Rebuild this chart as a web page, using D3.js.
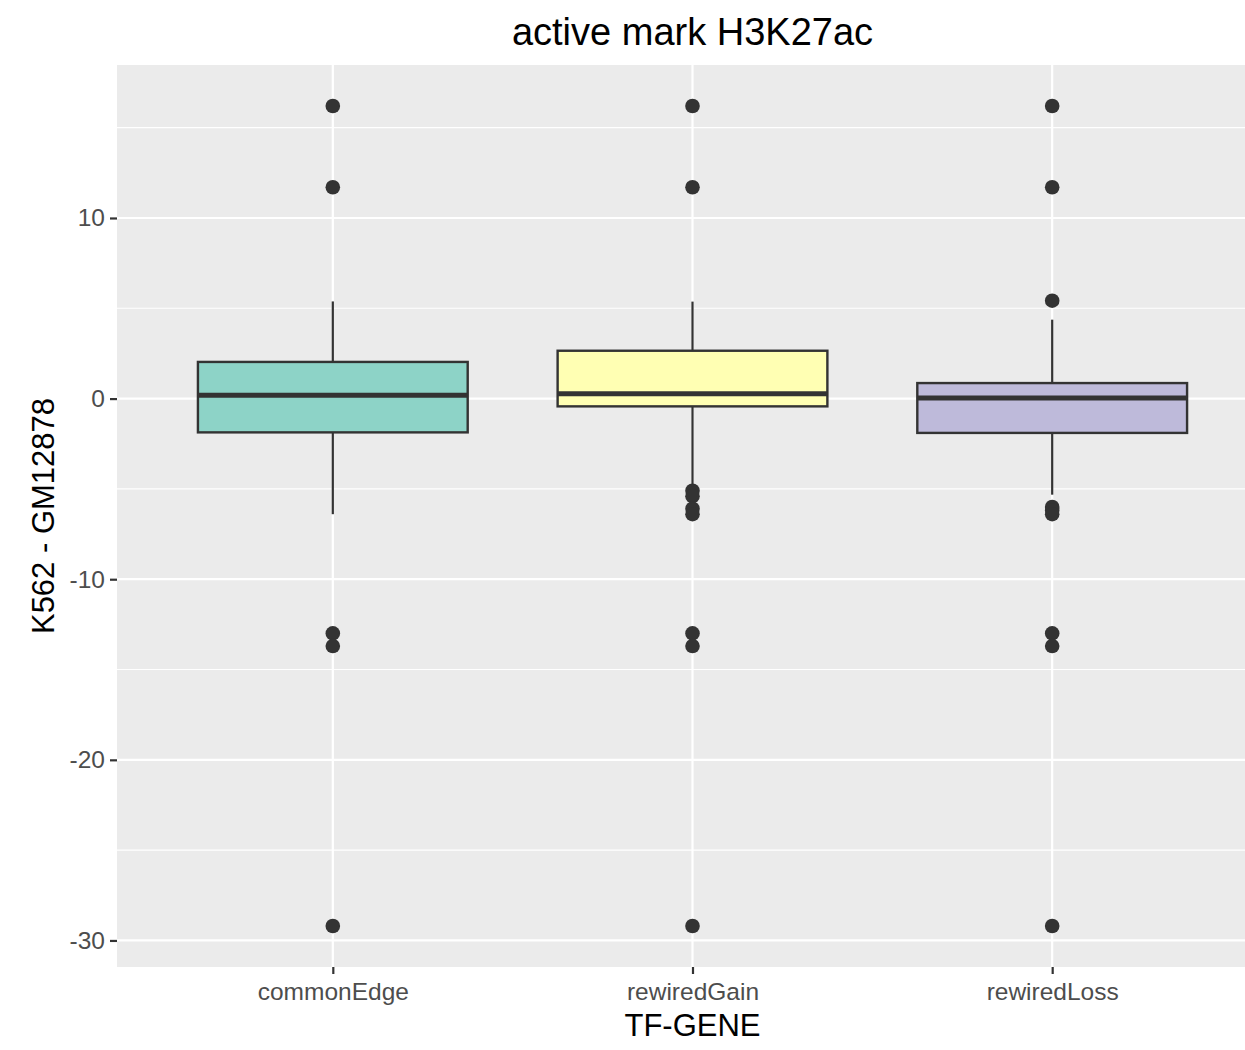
<!DOCTYPE html>
<html>
<head>
<meta charset="utf-8">
<script src="https://cdn.jsdelivr.net/npm/d3@7"></script>
<style>
  html, body { margin: 0; padding: 0; background: #ffffff; }
  svg { display: block; }
  text { font-family: "Liberation Sans", Arial, Helvetica, sans-serif; }
</style>
</head>
<body>
<svg id="chart" width="1245" height="1050"></svg>
<script>
// ---------------- data ----------------
const categories = ["commonEdge", "rewiredGain", "rewiredLoss"];
const fills = ["#8DD3C7", "#FFFFB3", "#BEBADA"];
const q1Values = [-1.87, -0.43, -1.90];
const medianValues = [0.18, 0.27, 0.03];
const q3Values = [2.03, 2.65, 0.86];
const whiskerLow = [-6.40, -4.90, -5.32];
const whiskerHigh = [5.38, 5.37, 4.37];
const outliersCommonEdge = [16.2, 11.7, -13.0, -13.7, -29.2];
const outliersRewiredGain = [16.2, 11.7, -5.1, -5.4, -6.1, -6.4, -13.0, -13.7, -29.2];
const outliersRewiredLoss = [16.2, 11.7, 5.42, -6.0, -6.2, -6.4, -13.0, -13.7, -29.2];
const outlierLists = [outliersCommonEdge, outliersRewiredGain, outliersRewiredLoss];
const yTicks = [-30, -20, -10, 0, 10];
const yTickLabels = ["-30", "-20", "-10", "0", "10"];
const yMinorTicks = [-25, -15, -5, 5, 15];
const titleText = "active mark H3K27ac";
const xTitle = "TF-GENE";
const yTitle = "K562 - GM12878";

// ---------------- layout ----------------
const svg = d3.select("#chart");
const panel = { left: 117, right: 1268, top: 65, bottom: 967 };

const allVals = [].concat(...outlierLists, whiskerLow, whiskerHigh);
const [dmin, dmax] = d3.extent(allVals);
const ex = (dmax - dmin) * 0.05;

const y = d3.scaleLinear().domain([dmin - ex, dmax + ex]).range([panel.bottom, panel.top]);
const x = d3.scalePoint().domain(categories).range([panel.left, panel.right]).padding(0.6);
const boxW = x.step() * 0.75;

const boxes = categories.map((c, i) => ({
  cat: c, fill: fills[i], q1: q1Values[i], med: medianValues[i], q3: q3Values[i],
  lo: whiskerLow[i], hi: whiskerHigh[i], out: outlierLists[i]
}));

// panel background
svg.append("rect")
  .attr("x", panel.left).attr("y", panel.top)
  .attr("width", panel.right - panel.left).attr("height", panel.bottom - panel.top)
  .attr("fill", "#EBEBEB");

// minor grid
svg.append("g").selectAll("line").data(yMinorTicks).join("line")
  .attr("x1", panel.left).attr("x2", panel.right)
  .attr("y1", d => y(d)).attr("y2", d => y(d))
  .attr("stroke", "#ffffff").attr("stroke-width", 1.1);

// major grid
svg.append("g").selectAll("line").data(yTicks).join("line")
  .attr("x1", panel.left).attr("x2", panel.right)
  .attr("y1", d => y(d)).attr("y2", d => y(d))
  .attr("stroke", "#ffffff").attr("stroke-width", 2.2);
svg.append("g").selectAll("line").data(categories).join("line")
  .attr("x1", d => x(d)).attr("x2", d => x(d))
  .attr("y1", panel.top).attr("y2", panel.bottom)
  .attr("stroke", "#ffffff").attr("stroke-width", 2.2);

// boxplots
const g = svg.append("g");
const bg = g.selectAll("g.box").data(boxes).join("g").attr("class", "box");

// outliers
bg.each(function(b) {
  d3.select(this).selectAll("circle").data(b.out).join("circle")
    .attr("cx", x(b.cat)).attr("cy", d => y(d)).attr("r", 7.3)
    .attr("fill", "#333333");
});
// whiskers
bg.append("line")
  .attr("x1", b => x(b.cat)).attr("x2", b => x(b.cat))
  .attr("y1", b => y(b.q3)).attr("y2", b => y(b.hi))
  .attr("stroke", "#333333").attr("stroke-width", 2.2);
bg.append("line")
  .attr("x1", b => x(b.cat)).attr("x2", b => x(b.cat))
  .attr("y1", b => y(b.q1)).attr("y2", b => y(b.lo))
  .attr("stroke", "#333333").attr("stroke-width", 2.2);
// box
bg.append("rect")
  .attr("x", b => x(b.cat) - boxW / 2).attr("width", boxW)
  .attr("y", b => y(b.q3)).attr("height", b => y(b.q1) - y(b.q3))
  .attr("fill", b => b.fill).attr("stroke", "#333333").attr("stroke-width", 2.4);
// median
bg.append("line")
  .attr("x1", b => x(b.cat) - boxW / 2).attr("x2", b => x(b.cat) + boxW / 2)
  .attr("y1", b => y(b.med)).attr("y2", b => y(b.med))
  .attr("stroke", "#333333").attr("stroke-width", 5);

// y axis
const yAxis = d3.axisLeft(y).tickValues(yTicks).tickSize(7).tickPadding(5)
  .tickFormat((d, i) => yTickLabels[i]);
const ya = svg.append("g").attr("transform", `translate(${panel.left},0)`).call(yAxis);
ya.select(".domain").remove();
ya.selectAll(".tick line").attr("stroke", "#333333").attr("stroke-width", 2.2);
ya.selectAll(".tick text").attr("fill", "#4D4D4D").attr("font-size", 24.5)
  .attr("font-family", "Liberation Sans, Arial, sans-serif");

// x axis
const xAxis = d3.axisBottom(x).tickSize(7).tickPadding(9);
const xa = svg.append("g").attr("transform", `translate(0,${panel.bottom})`).call(xAxis);
xa.select(".domain").remove();
xa.selectAll(".tick line").attr("stroke", "#333333").attr("stroke-width", 2.2);
xa.selectAll(".tick text").attr("fill", "#4D4D4D").attr("font-size", 24.5)
  .attr("font-family", "Liberation Sans, Arial, sans-serif");

// titles
const cx = (panel.left + panel.right) / 2;
svg.append("text").attr("x", cx).attr("y", 45).attr("text-anchor", "middle")
  .attr("font-size", 38).attr("fill", "#000000").text(titleText);
svg.append("text").attr("x", cx).attr("y", 1036).attr("text-anchor", "middle")
  .attr("font-size", 31).attr("fill", "#000000").text(xTitle);
svg.append("text")
  .attr("transform", `translate(54,${(panel.top + panel.bottom) / 2}) rotate(-90)`)
  .attr("text-anchor", "middle").attr("font-size", 31).attr("fill", "#000000").text(yTitle);
</script>
</body>
</html>
